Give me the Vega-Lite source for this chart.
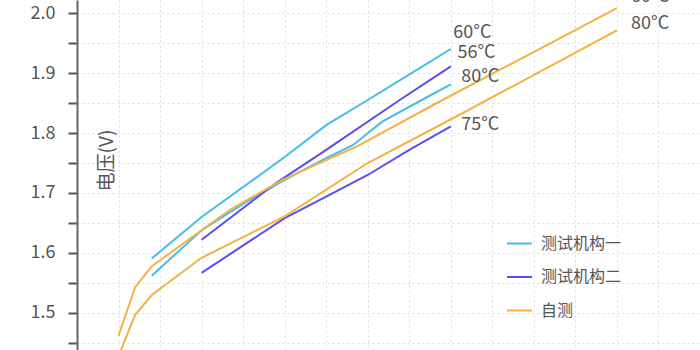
{
  "$schema": "https://vega.github.io/schema/vega-lite/v6.json",
  "width": 623,
  "height": 350,
  "autosize": {"type": "none"},
  "padding": {"left": 77, "top": 0, "right": 0, "bottom": 0},
  "background": "white",
  "config": {
    "view": {"stroke": null},
    "font": "Noto Sans CJK SC"
  },
  "datasets": {
    "lines": [
      {"series": "测试机构一", "curve": "a", "x": 1.8, "y": 1.591},
      {"series": "测试机构一", "curve": "a", "x": 3.0, "y": 1.660},
      {"series": "测试机构一", "curve": "a", "x": 5.0, "y": 1.760},
      {"series": "测试机构一", "curve": "a", "x": 6.0, "y": 1.813},
      {"series": "测试机构一", "curve": "a", "x": 7.0, "y": 1.855},
      {"series": "测试机构一", "curve": "a", "x": 8.2, "y": 1.906},
      {"series": "测试机构一", "curve": "a", "x": 9.0, "y": 1.940},
      {"series": "测试机构一", "curve": "b", "x": 1.8, "y": 1.562},
      {"series": "测试机构一", "curve": "b", "x": 3.0, "y": 1.638},
      {"series": "测试机构一", "curve": "b", "x": 4.0, "y": 1.682},
      {"series": "测试机构一", "curve": "b", "x": 5.0, "y": 1.722},
      {"series": "测试机构一", "curve": "b", "x": 6.0, "y": 1.758},
      {"series": "测试机构一", "curve": "b", "x": 6.65, "y": 1.780},
      {"series": "测试机构一", "curve": "b", "x": 7.35, "y": 1.819},
      {"series": "测试机构一", "curve": "b", "x": 8.3, "y": 1.855},
      {"series": "测试机构一", "curve": "b", "x": 9.0, "y": 1.881},
      {"series": "测试机构二", "curve": "c", "x": 3.0, "y": 1.622},
      {"series": "测试机构二", "curve": "c", "x": 4.8, "y": 1.717},
      {"series": "测试机构二", "curve": "c", "x": 6.0, "y": 1.772},
      {"series": "测试机构二", "curve": "c", "x": 7.77, "y": 1.855},
      {"series": "测试机构二", "curve": "c", "x": 9.0, "y": 1.911},
      {"series": "测试机构二", "curve": "d", "x": 3.0, "y": 1.567},
      {"series": "测试机构二", "curve": "d", "x": 5.0, "y": 1.658},
      {"series": "测试机构二", "curve": "d", "x": 6.0, "y": 1.694},
      {"series": "测试机构二", "curve": "d", "x": 7.0, "y": 1.730},
      {"series": "测试机构二", "curve": "d", "x": 8.0, "y": 1.772},
      {"series": "测试机构二", "curve": "d", "x": 9.0, "y": 1.811},
      {"series": "自测", "curve": "e", "x": 1.0, "y": 1.462},
      {"series": "自测", "curve": "e", "x": 1.4, "y": 1.543},
      {"series": "自测", "curve": "e", "x": 1.8, "y": 1.578},
      {"series": "自测", "curve": "e", "x": 3.0, "y": 1.638},
      {"series": "自测", "curve": "e", "x": 3.68, "y": 1.672},
      {"series": "自测", "curve": "e", "x": 4.95, "y": 1.722},
      {"series": "自测", "curve": "e", "x": 6.0, "y": 1.755},
      {"series": "自测", "curve": "e", "x": 6.72, "y": 1.777},
      {"series": "自测", "curve": "e", "x": 8.8, "y": 1.855},
      {"series": "自测", "curve": "e", "x": 13.0, "y": 2.008},
      {"series": "自测", "curve": "f", "x": 0.98, "y": 1.425},
      {"series": "自测", "curve": "f", "x": 1.4, "y": 1.497},
      {"series": "自测", "curve": "f", "x": 1.8, "y": 1.530},
      {"series": "自测", "curve": "f", "x": 3.0, "y": 1.592},
      {"series": "自测", "curve": "f", "x": 5.0, "y": 1.661},
      {"series": "自测", "curve": "f", "x": 7.0, "y": 1.750},
      {"series": "自测", "curve": "f", "x": 9.2, "y": 1.830},
      {"series": "自测", "curve": "f", "x": 13.0, "y": 1.971}
    ],
    "labels": [
      {"x": 9.06, "y": 1.9667, "text": "60°C"},
      {"x": 9.16, "y": 1.9333, "text": "56°C"},
      {"x": 9.25, "y": 1.8933, "text": "80°C"},
      {"x": 9.25, "y": 1.8133, "text": "75°C"},
      {"x": 13.34, "y": 2.0267, "text": "60°C"},
      {"x": 13.34, "y": 1.9817, "text": "80°C"}
    ]
  },
  "encoding": {
    "x": {
      "field": "x",
      "type": "quantitative",
      "scale": {"domain": [0, 15], "nice": false, "zero": false},
      "axis": {
        "values": [0, 1, 2, 3, 4, 5, 6, 7, 8, 9, 10, 11, 12, 13, 14, 15],
        "labels": false,
        "ticks": false,
        "domain": false,
        "title": null,
        "grid": true,
        "gridColor": "#dcdcdc",
        "gridDash": [2, 3],
        "gridWidth": 1
      }
    },
    "y": {
      "field": "y",
      "type": "quantitative",
      "scale": {"domain": [1.43833, 2.02167], "nice": false, "zero": false},
      "axis": {
        "values": [1.45, 1.5, 1.55, 1.6, 1.65, 1.7, 1.75, 1.8, 1.85, 1.9, 1.95, 2.0],
        "labelExpr": "(round(datum.value * 100) % 10) == 0 ? datum.label : ''",
        "format": ".1f",
        "labelOverlap": false,
        "labelFontSize": 18,
        "labelColor": "#555555",
        "labelPadding": 13,
        "tickSize": 9,
        "tickColor": "#555555",
        "tickWidth": 2,
        "encode": {
          "ticks": {
            "update": {
              "x2": {"signal": "(round(datum.value * 100) % 10) == 0 ? -9 : -5"}
            }
          }
        },
        "domainColor": "#666666",
        "domainWidth": 2,
        "grid": true,
        "gridColor": "#dcdcdc",
        "gridDash": [2, 3],
        "gridWidth": 1,
        "title": "电压(V)",
        "titleFontSize": 19,
        "titleFontWeight": "normal",
        "titleColor": "#555555",
        "titleAngle": -90,
        "titleX": 29,
        "titleY": 160,
        "titleAlign": "center",
        "titleBaseline": "middle"
      }
    }
  },
  "layer": [
    {
      "data": {"name": "lines"},
      "mark": {"type": "line", "strokeWidth": 2, "clip": true},
      "encoding": {
        "color": {
          "field": "series",
          "type": "nominal",
          "scale": {
            "domain": ["测试机构一", "测试机构二", "自测"],
            "range": ["#45bde8", "#5b4ef0", "#f7b042"]
          },
          "legend": {
            "orient": "none",
            "legendX": 429,
            "legendY": 230,
            "title": null,
            "symbolType": "stroke",
            "symbolSize": 625,
            "symbolStrokeWidth": 2,
            "labelFontSize": 16,
            "labelColor": "#555555",
            "labelOffset": 8,
            "rowPadding": 11.5
          }
        },
        "detail": {"field": "curve", "type": "nominal"}
      }
    },
    {
      "data": {"name": "labels"},
      "mark": {"type": "text", "align": "left", "baseline": "middle", "fontSize": 18, "color": "#555555"},
      "encoding": {
        "text": {"field": "text", "type": "nominal"}
      }
    }
  ]
}
